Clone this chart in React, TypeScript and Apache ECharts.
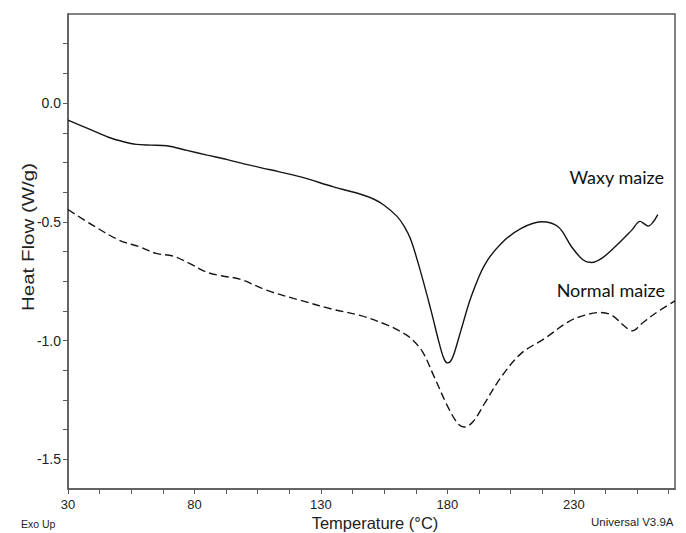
import React, { useEffect, useRef } from "react";
import * as echarts from "echarts";

// Waxy maize (solid)
const waxyTemp = [30, 38, 46, 52, 57, 63, 69, 77, 85, 93, 100, 110, 122, 135, 146, 151, 155, 160, 163, 165.6, 169.6, 173.5, 176.8, 178.6, 180, 181.2, 182.5, 185.4, 189.4, 194.7, 201.3, 209.2, 217.2, 223.8, 229.1, 233.7, 237, 241, 246.3, 252.9, 256.2, 258, 259.4, 261.3, 263.2];
const waxyHeat = [-0.072, -0.108, -0.144, -0.163, -0.174, -0.177, -0.18, -0.199, -0.219, -0.238, -0.257, -0.281, -0.311, -0.353, -0.385, -0.405, -0.43, -0.476, -0.52, -0.577, -0.717, -0.872, -1.012, -1.075, -1.094, -1.088, -1.06, -0.956, -0.816, -0.682, -0.591, -0.528, -0.5, -0.521, -0.605, -0.661, -0.671, -0.654, -0.605, -0.535, -0.498, -0.51, -0.518, -0.502, -0.47];

// Normal maize (dashed)
const normalTemp = [30, 39.7, 50.2, 58.2, 64.8, 71.4, 78, 84.6, 91, 97.9, 108.5, 121.7, 134.9, 145.8, 156.3, 162, 165.6, 170.2, 174.8, 180.2, 184.1, 186.7, 190.1, 194.7, 201.3, 209.2, 218.5, 227.8, 234.4, 240.3, 245, 250.3, 253.2, 256.9, 262.1, 270];
const normalHeat = [-0.448, -0.514, -0.577, -0.605, -0.633, -0.644, -0.675, -0.711, -0.728, -0.741, -0.788, -0.83, -0.869, -0.895, -0.935, -0.965, -0.991, -1.048, -1.153, -1.279, -1.349, -1.364, -1.342, -1.265, -1.153, -1.054, -0.991, -0.921, -0.893, -0.882, -0.893, -0.942, -0.959, -0.928, -0.886, -0.833];

// Axis ticks
const xMin = 30;
const xMax = 270;
const xMajorLabels = [30, 80, 130, 180, 230];
const xMinorStep = 12.5;
const yMin = -1.625;
const yMax = 0.375;
const yStep = 0.125;
const yLabelStep = 0.5;

const seriesNames = ["Waxy maize", "Normal maize"];

export default function App() {
  const ref = useRef<HTMLDivElement>(null);

  useEffect(() => {
    if (!ref.current) return;
    const chart = echarts.init(ref.current, null, { renderer: "svg" });

    const xTicks: number[] = [];
    for (let v = xMin; v <= xMax + 1e-9; v += xMinorStep) xTicks.push(v);

    const font = "'Liberation Sans', Arial, sans-serif";
    const axisColor = "#5a5a5a";

    chart.setOption({
      animation: false,
      backgroundColor: "#ffffff",
      grid: {
        left: 68,
        right: 11,
        top: 14,
        bottom: 44,
        show: true,
        borderColor: axisColor,
        borderWidth: 1.5,
        outerBoundsMode: "none",
      },
      xAxis: {
        type: "value",
        min: xMin,
        max: xMax,
        splitLine: { show: false },
        axisLine: { show: true, onZero: false, lineStyle: { color: axisColor, width: 1.5 } },
        axisTick: {
          show: true,
          length: 5,
          customValues: xTicks,
          lineStyle: { color: axisColor, width: 1 },
        },
        axisLabel: {
          customValues: xMajorLabels,
          fontFamily: font,
          fontSize: 13,
          color: "#222",
          margin: 9,
        },
      },
      yAxis: {
        type: "value",
        min: yMin,
        max: yMax,
        interval: yStep,
        splitLine: { show: false },
        axisLine: { show: true, onZero: false, lineStyle: { color: axisColor, width: 1.5 } },
        axisTick: { show: true, length: 5, lineStyle: { color: axisColor, width: 1 } },
        axisLabel: {
          fontFamily: font,
          fontSize: 14,
          color: "#222",
          margin: 7,
          showMinLabel: false,
          showMaxLabel: false,
          formatter: (v: number) => {
            const r = v / yLabelStep;
            return Math.abs(r - Math.round(r)) < 1e-6 ? v.toFixed(1) : "";
          },
        },
      },
      series: [
        {
          name: seriesNames[0],
          type: "line",
          data: waxyTemp.map((t, i) => [t, waxyHeat[i]]),
          showSymbol: false,
          smooth: 0.35,
          lineStyle: { color: "#151515", width: 1.4 },
        },
        {
          name: seriesNames[1],
          type: "line",
          data: normalTemp.map((t, i) => [t, normalHeat[i]]),
          showSymbol: false,
          smooth: 0.35,
          lineStyle: { color: "#151515", width: 1.4, type: [8, 4] },
        },
      ],
      graphic: [
        {
          type: "text",
          x: 28,
          y: 237,
          rotation: Math.PI / 2,
          scaleY: 0.8,
          style: {
            text: "Heat Flow (W/g)",
            font: `20.5px ${font}`,
            fill: "#222",
            textAlign: "center",
            textVerticalAlign: "middle",
          },
        },
        {
          type: "text",
          x: 375,
          y: 523,
          style: {
            text: "Temperature (°C)",
            font: `16.5px ${font}`,
            fill: "#222",
            textAlign: "center",
            textVerticalAlign: "middle",
          },
        },
        {
          type: "text",
          x: 21,
          y: 524,
          style: {
            text: "Exo Up",
            font: `10.5px ${font}`,
            fill: "#222",
            textAlign: "left",
            textVerticalAlign: "middle",
          },
        },
        {
          type: "text",
          x: 591,
          y: 522,
          style: {
            text: "Universal V3.9A",
            font: `11.5px ${font}`,
            fill: "#222",
            textAlign: "left",
            textVerticalAlign: "middle",
          },
        },
        {
          type: "text",
          x: 664,
          y: 177,
          style: {
            text: seriesNames[0],
            font: "18px Lato, 'Open Sans', sans-serif",
            fill: "#111",
            textAlign: "right",
            textVerticalAlign: "middle",
          },
        },
        {
          type: "text",
          x: 665,
          y: 290,
          style: {
            text: seriesNames[1],
            font: "18px Lato, 'Open Sans', sans-serif",
            fill: "#111",
            textAlign: "right",
            textVerticalAlign: "middle",
          },
        },
      ],
    });

    return () => chart.dispose();
  }, []);

  return (
    <div
      ref={ref}
      style={{ position: "fixed", left: 0, top: 0, width: 686, height: 533, background: "#fff" }}
    />
  );
}
